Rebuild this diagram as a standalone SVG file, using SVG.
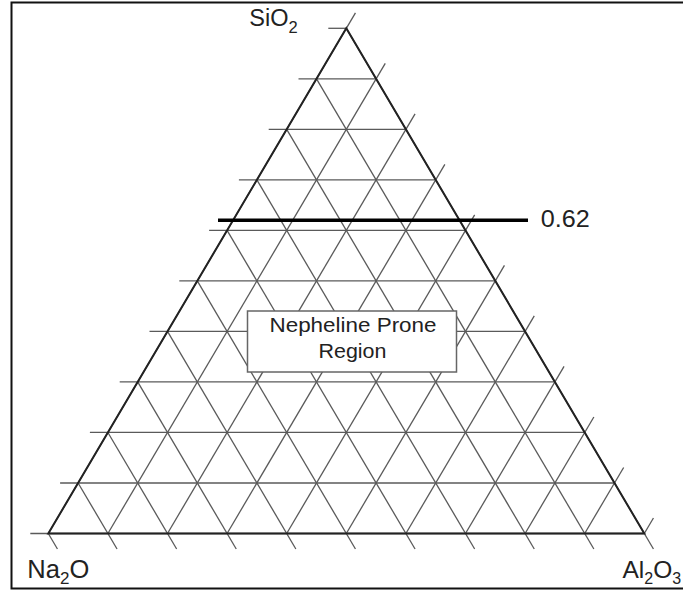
<svg xmlns="http://www.w3.org/2000/svg" width="683" height="590" viewBox="0 0 683 590">
<style>
.grid{stroke:#5a5a5a;stroke-width:1.3;fill:none}
.edge{stroke:#222;stroke-width:2;fill:none;stroke-linejoin:miter}
.frame{stroke:#111;stroke-width:2;fill:none}
.lbl{font-family:"Liberation Sans",Arial,sans-serif;fill:#222}
</style>
<rect x="0" y="0" width="683" height="590" fill="#fff"/>
<g id="frame"><path class="frame" d="M683,2.5 H11.5 V588.5 H683"/></g>
<g id="connectors">
<g id="horizontal" class="grid">
<line x1="30.3" y1="533.5" x2="644.3" y2="533.5"/>
<line x1="60.1" y1="482.98" x2="614.5" y2="482.98"/>
<line x1="89.9" y1="432.46" x2="584.7" y2="432.46"/>
<line x1="119.7" y1="381.94" x2="554.9" y2="381.94"/>
<line x1="149.5" y1="331.42" x2="525.1" y2="331.42"/>
<line x1="179.3" y1="280.9" x2="495.3" y2="280.9"/>
<line x1="209.1" y1="230.38" x2="465.5" y2="230.38"/>
<line x1="238.9" y1="179.86" x2="435.7" y2="179.86"/>
<line x1="268.7" y1="129.34" x2="405.9" y2="129.34"/>
<line x1="298.5" y1="78.82" x2="376.1" y2="78.82"/>
<line x1="328.3" y1="28.3" x2="346.3" y2="28.3"/>
</g>
<g id="upright" class="grid">
<line x1="48.3" y1="533.5" x2="355.45" y2="12.8"/>
<line x1="107.9" y1="533.5" x2="385.25" y2="63.32"/>
<line x1="167.5" y1="533.5" x2="415.05" y2="113.84"/>
<line x1="227.1" y1="533.5" x2="444.85" y2="164.36"/>
<line x1="286.7" y1="533.5" x2="474.65" y2="214.88"/>
<line x1="346.3" y1="533.5" x2="504.45" y2="265.4"/>
<line x1="405.9" y1="533.5" x2="534.25" y2="315.92"/>
<line x1="465.5" y1="533.5" x2="564.05" y2="366.44"/>
<line x1="525.1" y1="533.5" x2="593.85" y2="416.96"/>
<line x1="584.7" y1="533.5" x2="623.65" y2="467.48"/>
<line x1="644.3" y1="533.5" x2="653.45" y2="518"/>
</g>
<g id="downright" class="grid">
<line x1="48.3" y1="533.5" x2="57.45" y2="549"/>
<line x1="78.1" y1="482.98" x2="117.05" y2="549"/>
<line x1="107.9" y1="432.46" x2="176.65" y2="549"/>
<line x1="137.7" y1="381.94" x2="236.25" y2="549"/>
<line x1="167.5" y1="331.42" x2="295.85" y2="549"/>
<line x1="197.3" y1="280.9" x2="355.45" y2="549"/>
<line x1="227.1" y1="230.38" x2="415.05" y2="549"/>
<line x1="256.9" y1="179.86" x2="474.65" y2="549"/>
<line x1="286.7" y1="129.34" x2="534.25" y2="549"/>
<line x1="316.5" y1="78.82" x2="593.85" y2="549"/>
<line x1="346.3" y1="28.3" x2="653.45" y2="549"/>
</g>
<polygon id="triangle" class="edge" points="48.3,533.5 346.3,28.3 644.3,533.5"/>
<line id="line062" x1="218" y1="220.3" x2="528" y2="220.3" stroke="#000" stroke-width="3.4"/>
</g>
<g id="region-label">
<rect x="247.5" y="311" width="209" height="61" fill="#fff" stroke="#666" stroke-width="1.5"/>
<text class="lbl" x="353" y="331.7" font-size="21" text-anchor="middle" textLength="167" lengthAdjust="spacingAndGlyphs">Nepheline Prone</text>
<text class="lbl" x="352.5" y="358.3" font-size="21" text-anchor="middle" textLength="68" lengthAdjust="spacingAndGlyphs">Region</text>
</g>
<g id="value-label"><text class="lbl" x="540.7" y="226.7" font-size="23" textLength="49" lengthAdjust="spacingAndGlyphs">0.62</text></g>
<g id="SiO2"><text class="lbl" x="249.3" y="26.3" font-size="23.5">SiO<tspan font-size="16.5" dy="6.5">2</tspan></text></g>
<g id="Na2O"><text class="lbl" x="27.3" y="577.7" font-size="25.5">Na<tspan font-size="17" dy="6.5">2</tspan><tspan dy="-6.5">O</tspan></text></g>
<g id="Al2O3"><text class="lbl" x="622.5" y="577.7" font-size="24.5">Al<tspan font-size="16" dy="6.5">2</tspan><tspan dy="-6.5">O</tspan><tspan font-size="16" dy="6.5">3</tspan></text></g>
</svg>
